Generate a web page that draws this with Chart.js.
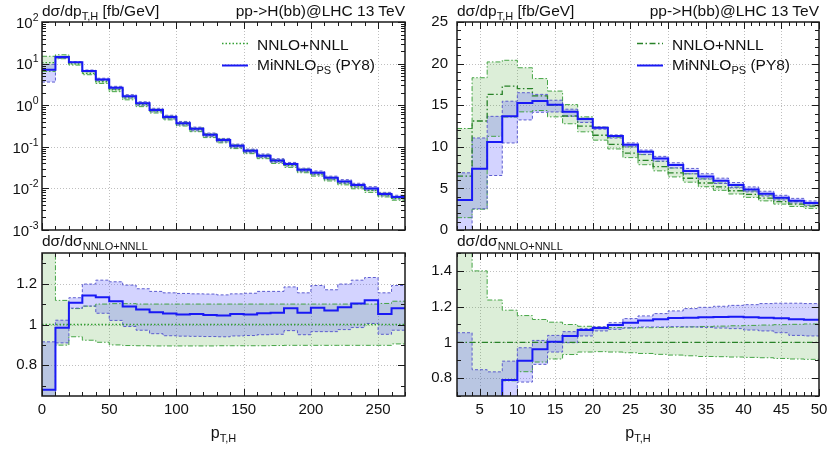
<!DOCTYPE html>
<html><head><meta charset="utf-8">
<script src="https://cdn.jsdelivr.net/npm/chart.js@4"></script>
<style>
body{margin:0;width:829px;height:452px;background:#fff;position:relative;overflow:hidden;font-family:"Liberation Sans",Arial,sans-serif;color:#111}
canvas{position:absolute}
.t{position:absolute;white-space:nowrap;font-size:15.5px;line-height:16px}
.sub{font-size:11px;position:relative;top:4px}
.sup{font-size:10.5px;position:relative;top:-7px}
</style></head><body>
<canvas id="tl" width="415" height="240" style="left:0;top:0"></canvas>
<canvas id="tr" width="414" height="240" style="left:415px;top:0"></canvas>
<canvas id="bl" width="415" height="212" style="left:0;top:240px"></canvas>
<canvas id="br" width="414" height="212" style="left:415px;top:240px"></canvas>

<div class="t" style="left:42px;top:3px">dσ/dp<span class="sub">T,H</span> [fb/GeV]</div>
<div class="t" style="right:424px;top:3px">pp-&gt;H(bb)@LHC 13 TeV</div>
<div class="t" style="left:457px;top:3px">dσ/dp<span class="sub">T,H</span> [fb/GeV]</div>
<div class="t" style="right:10px;top:3px">pp-&gt;H(bb)@LHC 13 TeV</div>
<div class="t" style="left:42px;top:233px">dσ/dσ<span class="sub">NNLO+NNLL</span></div>
<div class="t" style="left:457px;top:233px">dσ/dσ<span class="sub">NNLO+NNLL</span></div>
<div class="t" style="left:123.5px;width:200px;text-align:center;top:425px;font-size:16px">p<span class="sub">T,H</span></div>
<div class="t" style="left:538px;width:200px;text-align:center;top:425px;font-size:16px">p<span class="sub">T,H</span></div>

<div class="t" style="left:257px;top:37px">NNLO+NNLL</div>
<div class="t" style="left:257px;top:57px">MiNNLO<span class="sub">PS</span> (PY8)</div>
<div class="t" style="left:672px;top:37px">NNLO+NNLL</div>
<div class="t" style="left:672px;top:57px">MiNNLO<span class="sub">PS</span> (PY8)</div>
<svg style="position:absolute;left:0;top:0" width="829" height="452">
<line x1="222" y1="43.5" x2="248" y2="43.5" stroke="rgb(50,160,50)" stroke-width="1.3" stroke-dasharray="1.5 2"/>
<line x1="222" y1="65.5" x2="248" y2="65.5" stroke="rgb(25,25,245)" stroke-width="2"/>
<line x1="637" y1="43.5" x2="663" y2="43.5" stroke="rgb(40,130,40)" stroke-width="1.3" stroke-dasharray="6 2.5 1.5 2.5"/>
<line x1="637" y1="65.5" x2="663" y2="65.5" stroke="rgb(25,25,245)" stroke-width="2"/>
</svg>

<script>
// ---------------- data ----------------
const ptEdgesL = [0,10,20,30,40,50,60,70,80,90,100,110,120,130,140,150,160,170,180,190,200,210,220,230,240,250,260,270];
const nnllL   = [10.5,14.6,9.8,5.85,3.66,2.35,1.50,1.03,0.725,0.496,0.353,0.258,0.186,0.139,0.101,0.0763,0.0578,0.0445,0.0356,0.0265,0.0220,0.0168,0.01355,0.0109,0.00894,0.00694,0.00574];
const nnllLoL = [6.5,13.1,9.21,5.40,3.34,2.115,1.346,0.923,0.649,0.444,0.316,0.231,0.1665,0.1245,0.0905,0.0684,0.0518,0.0399,0.032,0.0238,0.01976,0.01509,0.01217,0.00979,0.00803,0.00623,0.0052];
const nnllHiL = [15.0,16.3,10.56,6.38,4.03,2.59,1.65,1.133,0.798,0.546,0.388,0.284,0.205,0.153,0.111,0.0839,0.0636,0.049,0.0392,0.0292,0.0242,0.0185,0.0149,0.0120,0.00983,0.00765,0.00639];
const minL    = [7.14,14.4,10.8,6.68,4.15,2.62,1.63,1.11,0.769,0.523,0.370,0.271,0.195,0.145,0.106,0.080,0.061,0.047,0.0384,0.028,0.0238,0.018,0.0147,0.012,0.0100,0.0073,0.0062];
const minLoL  = [3.6,13.3,10.58,6.38,3.86,2.40,1.485,1.00,0.692,0.469,0.333,0.243,0.175,0.1307,0.0953,0.0722,0.0549,0.0424,0.0345,0.0252,0.0212,0.0162,0.01321,0.01074,0.00898,0.00661,0.00558];
const minHiL  = [9.6,14.9,11.08,7.01,4.45,2.84,1.79,1.21,0.842,0.573,0.407,0.297,0.214,0.159,0.116,0.088,0.0672,0.0517,0.0421,0.0306,0.0262,0.0197,0.01623,0.01327,0.011,0.00802,0.00684];

const rNnllL   = [1,1,1,1,1,1,1,1,1,1,1,1,1,1,1,1,1,1,1,1,1,1,1,1,1,1,1];
const rNnllLoL = [0.62,0.899,0.94,0.923,0.913,0.90,0.897,0.896,0.895,0.895,0.895,0.895,0.895,0.896,0.896,0.896,0.896,0.897,0.898,0.898,0.898,0.898,0.898,0.898,0.898,0.898,0.905];
const rNnllHiL = [1.43,1.118,1.078,1.09,1.10,1.102,1.102,1.10,1.10,1.10,1.10,1.10,1.10,1.10,1.10,1.10,1.10,1.10,1.10,1.10,1.10,1.10,1.10,1.10,1.10,1.103,1.114];
const rMinL    = [0.68,0.984,1.106,1.142,1.134,1.114,1.088,1.073,1.060,1.054,1.049,1.051,1.047,1.044,1.051,1.049,1.055,1.057,1.080,1.057,1.082,1.069,1.085,1.103,1.119,1.052,1.080];
const rMinLoL  = [0.34,0.91,1.08,1.09,1.055,1.02,0.99,0.972,0.955,0.945,0.943,0.942,0.941,0.94,0.944,0.946,0.95,0.952,0.97,0.95,0.965,0.965,0.975,0.985,1.005,0.952,0.972];
const rMinHiL  = [0.915,1.021,1.131,1.198,1.217,1.209,1.193,1.175,1.162,1.155,1.152,1.150,1.149,1.145,1.150,1.153,1.162,1.162,1.184,1.155,1.191,1.170,1.198,1.217,1.230,1.155,1.191];

const ptEdgesR = [2,4,6,8,10,12,14,16,18,20,22,24,26,28,30,32,34,36,38,40,42,44,46,48,50];
const nnllR   = [6.47,13.1,16.3,17.3,17.0,16.13,15.0,13.7,12.48,11.39,10.3,9.24,8.37,7.62,6.87,6.22,5.65,5.18,4.72,4.28,3.83,3.42,3.12,2.87];
const nnllLoR = [1.48,2.5,11.26,13.58,14.2,14.36,13.6,12.77,11.8,10.8,9.74,8.70,7.85,7.11,6.38,5.75,5.20,4.77,4.33,3.92,3.50,3.11,2.83,2.60];
const nnllHiR = [12.2,18.3,20.2,20.4,19.5,18.2,16.7,15.07,13.6,12.36,11.15,10.0,9.06,8.25,7.45,6.76,6.15,5.65,5.16,4.69,4.20,3.76,3.44,3.17];
const minR    = [3.6,7.35,10.58,13.66,15.26,15.5,15.06,14.2,13.34,12.3,11.3,10.26,9.4,8.6,7.8,7.08,6.44,5.92,5.4,4.88,4.36,3.88,3.52,3.24];
const minLoR  = [-1,2.55,6.55,10.46,13.23,14.15,14.19,13.67,12.93,12.12,11.05,9.98,9.09,8.28,7.47,6.75,6.12,5.59,5.08,4.58,4.08,3.60,3.24,2.97];
const minHiR  = [6.87,11.06,13.66,15.48,16.5,16.3,15.6,14.52,13.44,12.39,11.43,10.47,9.61,8.85,8.08,7.40,6.76,6.23,5.70,5.18,4.66,4.17,3.80,3.49];

const rNnllR   = [1,1,1,1,1,1,1,1,1,1,1,1,1,1,1,1,1,1,1,1,1,1,1,1];
const rNnllLoR = [0.23,0.19,0.69,0.785,0.836,0.89,0.907,0.932,0.946,0.948,0.946,0.942,0.938,0.933,0.929,0.925,0.921,0.92,0.918,0.916,0.914,0.91,0.907,0.905];
const rNnllHiR = [1.89,1.40,1.237,1.18,1.15,1.128,1.113,1.10,1.09,1.085,1.083,1.082,1.082,1.083,1.085,1.087,1.089,1.091,1.093,1.095,1.097,1.099,1.101,1.103];
const rMinR    = [0.556,0.561,0.649,0.789,0.897,0.961,1.004,1.036,1.069,1.08,1.097,1.11,1.123,1.129,1.136,1.138,1.14,1.142,1.144,1.14,1.138,1.135,1.129,1.127];
const rMinLoR  = [-0.15,0.195,0.40,0.605,0.778,0.877,0.946,0.998,1.036,1.064,1.073,1.08,1.086,1.086,1.088,1.086,1.084,1.08,1.077,1.069,1.064,1.054,1.039,1.036];
const rMinHiR  = [1.054,0.847,0.835,0.895,0.97,1.011,1.039,1.06,1.077,1.088,1.11,1.133,1.148,1.161,1.176,1.189,1.196,1.202,1.207,1.211,1.217,1.219,1.219,1.217];

// tick labels
const logTickExp   = [-3,-2,-1,0,1,2];
const xTicksL      = [0,50,100,150,200,250];
const xTicksR      = [5,10,15,20,25,30,35,40,45,50];
const yTicksTR     = [0,5,10,15,20,25];
const ratioTicksL  = [0.8,1,1.2];
const ratioTicksR  = [0.8,1,1.2,1.4];

// ---------------- helpers ----------------
function steps(edges, vals){
  const pts = [];
  for (let i = 0; i < vals.length; i++) {
    pts.push({x: edges[i], y: vals[i]});
    pts.push({x: edges[i+1], y: vals[i]});
  }
  return pts;
}
const BLUE = 'rgb(25,25,245)';
function sets(edges, s, nColor, nDash){
  const bandB = 'rgba(85,85,205,0.95)', bandG = 'rgba(60,160,60,0.95)';
  return [
    {data: steps(edges, s[0]), borderColor: BLUE, borderWidth: 2},
    {data: steps(edges, s[3]), borderColor: nColor, borderWidth: 1.3, borderDash: nDash},
    {data: steps(edges, s[2]), borderColor: bandB, borderWidth: 1, borderDash: [3,2], fill: '+1', backgroundColor: 'rgba(80,80,255,0.25)'},
    {data: steps(edges, s[1]), borderColor: bandB, borderWidth: 1, borderDash: [3,2]},
    {data: steps(edges, s[5]), borderColor: bandG, borderWidth: 1, borderDash: [5,2,1.5,2], fill: '+1', backgroundColor: 'rgba(60,160,40,0.18)'},
    {data: steps(edges, s[4]), borderColor: bandG, borderWidth: 1, borderDash: [5,2,1.5,2]}
  ].map(d => Object.assign({pointRadius: 0, tension: 0, fill: false, borderJoinStyle: 'miter'}, d));
}
function range(min, max, step){
  const out = [];
  for (let k = Math.ceil(min/step - 1e-9); k <= Math.floor(max/step + 1e-9); k++) out.push(+(k*step).toFixed(6));
  return out;
}
function yVals(scale, o, major){
  if (!o.yLog) return range(scale.min, scale.max, major ? o.yMajor : o.yMinor);
  const out = [];
  const k0 = Math.round(Math.log10(scale.min)), k1 = Math.round(Math.log10(scale.max));
  for (let k = k0; k <= k1; k++) {
    if (major) out.push(Math.pow(10, k));
    else if (k < k1) for (let m = 2; m <= 9; m++) out.push(m*Math.pow(10, k));
  }
  return out;
}
const frameGrid = {
  id: 'frameGrid',
  beforeDraw(chart, args, o){
    const {ctx, chartArea: a, scales: {x, y}} = chart;
    ctx.save();
    ctx.strokeStyle = '#bfbfbf'; ctx.lineWidth = 1; ctx.setLineDash([1,2]);
    ctx.beginPath();
    for (const v of range(x.min, x.max, o.xMajor)) {
      const p = Math.round(x.getPixelForValue(v)) + 0.5;
      if (p > a.left + 2 && p < a.right - 2) { ctx.moveTo(p, a.top); ctx.lineTo(p, a.bottom); }
    }
    for (const v of yVals(y, o, true)) {
      const p = Math.round(y.getPixelForValue(v)) + 0.5;
      if (p > a.top + 2 && p < a.bottom - 2) { ctx.moveTo(a.left, p); ctx.lineTo(a.right, p); }
    }
    ctx.stroke(); ctx.restore();
  },
  afterDatasetsDraw(chart, args, o){
    const {ctx, chartArea: a, scales: {x, y}} = chart;
    ctx.save();
    ctx.strokeStyle = '#1a1a1a'; ctx.lineWidth = 1; ctx.setLineDash([]);
    ctx.beginPath();
    const xt = (vals, len) => { for (const v of vals) { const p = Math.round(x.getPixelForValue(v)) + 0.5;
      ctx.moveTo(p, a.bottom); ctx.lineTo(p, a.bottom - len); ctx.moveTo(p, a.top); ctx.lineTo(p, a.top + len); } };
    const yt = (vals, len) => { for (const v of vals) { const p = Math.round(y.getPixelForValue(v)) + 0.5;
      ctx.moveTo(a.left, p); ctx.lineTo(a.left + len, p); ctx.moveTo(a.right, p); ctx.lineTo(a.right - len, p); } };
    xt(range(x.min, x.max, o.xMinor), 4);
    xt(range(x.min, x.max, o.xMajor), 7);
    yt(yVals(y, o, false), 4);
    yt(yVals(y, o, true), 7);
    ctx.stroke();
    ctx.lineWidth = 1.5;
    ctx.strokeRect(a.left, a.top, a.right - a.left, a.bottom - a.top);
    ctx.restore();
  }
};
const FONT = {size: 15, family: 'Liberation Sans, Arial, sans-serif'};
function mk(id, o){
  return new Chart(document.getElementById(id), {
    type: 'line',
    data: {datasets: o.datasets},
    options: {
      responsive: false, animation: false, events: [],
      layout: {padding: o.padding},
      plugins: {legend: {display: false}, tooltip: {enabled: false},
        filler: {drawTime: 'beforeDatasetsDraw'}, frameGrid: o.fg},
      scales: {
        x: {type: 'linear', min: o.xmin, max: o.xmax,
          grid: {display: false, drawTicks: false}, border: {display: false},
          afterBuildTicks: s => { s.ticks = o.xTicks.map(v => ({value: v})); },
          ticks: {display: o.xticksShow, autoSkip: false, maxRotation: 0, padding: 5, font: FONT, color: '#111',
            callback: v => String(v)},
          afterFit: s => { s.height = o.xh; s.paddingLeft = 0; s.paddingRight = 0; }},
        y: {type: o.fg.yLog ? 'logarithmic' : 'linear', min: o.ymin, max: o.ymax,
          grid: {display: false, drawTicks: false}, border: {display: false},
          afterBuildTicks: s => { if (o.yTicks) s.ticks = o.yTicks.map(v => ({value: v})); },
          ticks: {display: !o.fg.yLog, padding: o.ypad, font: FONT, color: '#111',
            callback: v => String(v)},
          afterFit: s => { s.width = 42; s.paddingTop = 0; s.paddingBottom = 0; }}
      }
    },
    plugins: [frameGrid]
  });
}
const DOT = [1.5,2], DASHDOT = [6,2.5,1.5,2.5];
const cTL = mk('tl', {
  datasets: sets(ptEdgesL, [minL, minLoL, minHiL, nnllL, nnllLoL, nnllHiL], 'rgb(50,160,50)', DOT),
  padding: {top: 22, right: 10, bottom: 10, left: 0}, xh: 0, xticksShow: false, xTicks: xTicksL,
  xmin: 0, xmax: 270, ymin: 1e-3, ymax: 1e2, ypad: 6,
  fg: {xMajor: 50, xMinor: 10, yLog: true}
});
mk('tr', {
  datasets: sets(ptEdgesR, [minR, minLoR, minHiR, nnllR, nnllLoR, nnllHiR], 'rgb(40,130,40)', DASHDOT),
  padding: {top: 22, right: 10, bottom: 10, left: 0}, xh: 0, xticksShow: false, xTicks: xTicksR,
  xmin: 2, xmax: 50, ymin: 0, ymax: 25, ypad: 9, yTicks: yTicksTR,
  fg: {xMajor: 5, xMinor: 1, yMajor: 5, yMinor: 1, yLog: false}
});
mk('bl', {
  datasets: sets(ptEdgesL, [rMinL, rMinLoL, rMinHiL, rNnllL, rNnllLoL, rNnllHiL], 'rgb(50,160,50)', DOT),
  padding: {top: 13, right: 10, bottom: 0, left: 0}, xh: 56, xticksShow: true, xTicks: xTicksL,
  xmin: 0, xmax: 270, ymin: 0.65, ymax: 1.35, ypad: 5, yTicks: ratioTicksL,
  fg: {xMajor: 50, xMinor: 10, yMajor: 0.2, yMinor: 0.1, yLog: false}
});
mk('br', {
  datasets: sets(ptEdgesR, [rMinR, rMinLoR, rMinHiR, rNnllR, rNnllLoR, rNnllHiR], 'rgb(40,130,40)', DASHDOT),
  padding: {top: 13, right: 10, bottom: 0, left: 0}, xh: 56, xticksShow: true, xTicks: xTicksR,
  xmin: 2, xmax: 50, ymin: 0.7, ymax: 1.5, ypad: 5, yTicks: ratioTicksR,
  fg: {xMajor: 5, xMinor: 1, yMajor: 0.2, yMinor: 0.1, yLog: false}
});
// log-axis tick labels with superscripts
const ys = cTL.scales.y;
for (const k of logTickExp) {
  const py = ys.getPixelForValue(Math.pow(10, k));
  const d = document.createElement('div');
  d.className = 't';
  d.style.cssText = 'left:0;width:38.5px;text-align:right;font-size:15px;line-height:15px;top:' + (py - 7.3) + 'px';
  d.innerHTML = '10<span class="sup">' + (k < 0 ? '-' + (-k) : k) + '</span>';
  document.body.appendChild(d);
}
</script>
</body></html>
